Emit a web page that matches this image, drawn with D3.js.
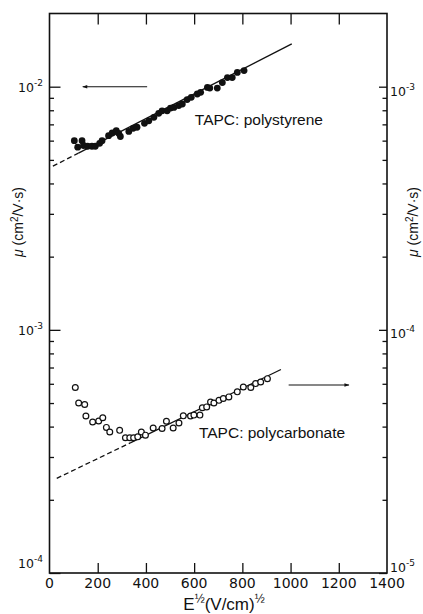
<!DOCTYPE html>
<html><head><meta charset="utf-8">
<script src="https://cdn.jsdelivr.net/npm/d3@7"></script>
<style>body{margin:0;background:#fff}svg{display:block}</style>
</head><body>
<svg id="c" width="423" height="614"></svg>
<script>
// ---- data ----
const xTickValues = [0, 200, 400, 600, 800, 1000, 1200, 1400];
const xInnerTicks = [200, 400, 600, 800, 1000, 1200];
const leftMajor = [1e-2, 1e-3, 1e-4];
const leftMajorExp = ["-2", "-3", "-4"];
const rightMajor = [1e-3, 1e-4, 1e-5];
const rightMajorExp = ["-3", "-4", "-5"];
const minorMult = [2, 3, 4, 5, 6, 7, 8, 9];

// TAPC: polystyrene (filled dots, left axis)
const psE  = [103,117,135,141,158,176,190,208,218,245,260,277,287,294,329,347,363,394,412,433,453,467,488,502,516,536,551,571,588,613,627,655,665,696,717,738,758,779,807];
const psMu = [6.00e-3,5.64e-3,6.00e-3,5.73e-3,5.69e-3,5.69e-3,5.69e-3,5.85e-3,6.00e-3,6.29e-3,6.45e-3,6.60e-3,6.43e-3,6.24e-3,6.55e-3,6.74e-3,6.81e-3,7.07e-3,7.24e-3,7.48e-3,7.77e-3,7.96e-3,7.96e-3,8.17e-3,8.22e-3,8.36e-3,8.49e-3,8.85e-3,9.04e-3,9.33e-3,9.48e-3,9.93e-3,9.87e-3,9.87e-3,1.04e-2,1.09e-2,1.09e-2,1.145e-2,1.165e-2];
const psFitDashed = [[14, 4.71e-3], [120, 5.33e-3]];
const psFitSolid  = [[120, 5.33e-3], [1005, 1.50e-2]];

// TAPC: polycarbonate (open circles, right axis)
const pcE  = [107,121,146,151,179,204,221,236,250,291,315,333,349,366,381,398,430,467,485,513,537,555,585,599,624,634,652,668,682,703,721,744,779,804,835,855,876,904];
const pcMu = [5.79e-5,5.00e-5,4.93e-5,4.42e-5,4.18e-5,4.22e-5,4.35e-5,3.97e-5,3.80e-5,3.86e-5,3.60e-5,3.60e-5,3.60e-5,3.63e-5,3.80e-5,3.69e-5,3.95e-5,3.93e-5,4.21e-5,3.95e-5,4.14e-5,4.43e-5,4.42e-5,4.46e-5,4.46e-5,4.78e-5,4.82e-5,5.05e-5,5.00e-5,5.13e-5,5.22e-5,5.30e-5,5.56e-5,5.82e-5,5.79e-5,6.01e-5,6.10e-5,6.30e-5];
const pcFitDashed = [[30, 2.45e-5], [335, 3.43e-5]];
const pcFitSolid  = [[335, 3.43e-5], [960, 6.87e-5]];

// annotations (data coordinates)
const psArrow = {from: [405, 1e-2], to: [138, 1e-2]};
const pcArrow = {from: [992, 5.93e-5], to: [1242, 5.93e-5]};
const psLabel = {E: 603, mu: 6.93e-3, text: "TAPC: polystyrene"};
const pcLabel = {E: 620, mu: 3.59e-5, text: "TAPC: polycarbonate"};

// ---- drawing ----
const ink = "#111";
const svg = d3.select("#c");
const x  = d3.scaleLinear().domain([0, 1400]).range([49.5, 387]);
const yL = d3.scaleLog().domain([1e-4, 2e-2]).range([573, 13.5]);
const yR = d3.scaleLog().domain([1e-5, 2e-3]).range([573, 13.5]);

const defs = svg.append("defs");
defs.append("marker").attr("id","ah").attr("viewBox","0 0 10 10").attr("refX",9).attr("refY",5)
  .attr("markerWidth",7).attr("markerHeight",5).attr("orient","auto").attr("markerUnits","userSpaceOnUse")
  .append("path").attr("d","M0,1.5 L10,5 L0,8.5 Z").attr("fill",ink);

function styleAxis(g){ g.select(".domain").remove(); g.selectAll("line").attr("stroke",ink).attr("stroke-width",1.3); g.selectAll("text").remove(); }

const leftMinor = [], rightMinor = [];
[1e-4, 1e-3].forEach(d => minorMult.forEach(m => leftMinor.push(m*d)));
[1e-5, 1e-4].forEach(d => minorMult.forEach(m => rightMinor.push(m*d)));

svg.append("g").attr("transform","translate(49.5,0)").call(d3.axisRight(yL).tickValues(leftMajor).tickSize(11)).call(styleAxis);
svg.append("g").attr("transform","translate(49.5,0)").call(d3.axisRight(yL).tickValues(leftMinor).tickSize(4.5)).call(styleAxis);
svg.append("g").attr("transform","translate(387,0)").call(d3.axisLeft(yR).tickValues(rightMajor).tickSize(8)).call(styleAxis);
svg.append("g").attr("transform","translate(387,0)").call(d3.axisLeft(yR).tickValues(rightMinor).tickSize(4.5)).call(styleAxis);
svg.append("g").attr("transform",`translate(0,${yL(2e-2)})`).call(d3.axisBottom(x).tickValues(xInnerTicks).tickSize(11)).call(styleAxis);
svg.append("g").attr("transform","translate(0,573)").call(d3.axisTop(x).tickValues(xInnerTicks).tickSize(10)).call(styleAxis);

// frame
svg.append("rect").attr("x", x(0)).attr("y", yL(2e-2)).attr("width", x(1400)-x(0)).attr("height", yL(1e-4)-yL(2e-2))
  .attr("fill","none").attr("stroke",ink).attr("stroke-width",1.6);

// x tick labels
svg.append("g").selectAll("text").data(xTickValues).join("text")
  .attr("x", d => x(d)).attr("y", 588).attr("text-anchor","middle")
  .attr("font-family","DejaVu Sans").attr("font-size",14).attr("fill",ink).text(d => d);

// y tick labels (bottom labels are lifted above the x axis)
const leftOff = [5, 5, -5];
const rightOff = [9, 8, -1];
const lt = svg.append("g").attr("font-family","DejaVu Sans").attr("fill",ink);
leftMajor.forEach((v,i) => {
  const t = lt.append("text").attr("x", 43).attr("y", yL(v)+leftOff[i]).attr("text-anchor","end").attr("font-size",12.5);
  t.append("tspan").text("10");
  t.append("tspan").attr("dy",-6).attr("font-size",9).text(leftMajorExp[i]);
});
rightMajor.forEach((v,i) => {
  const t = lt.append("text").attr("x", 390).attr("y", yR(v)+rightOff[i]).attr("text-anchor","start").attr("font-size",12.5);
  t.append("tspan").text("10");
  t.append("tspan").attr("dy",-6).attr("font-size",9).text(rightMajorExp[i]);
});

// axis titles
function yTitle(cx){
  const t = svg.append("text").attr("transform",`translate(${cx},222) rotate(-90)`).attr("text-anchor","middle")
    .attr("font-family","Liberation Sans").attr("font-size",14).attr("fill",ink);
  t.append("tspan").attr("font-style","italic").text("\u03bc");
  t.append("tspan").text(" (cm");
  t.append("tspan").attr("dy",-5).attr("font-size",10).text("2");
  t.append("tspan").attr("dy",5).text("/V\u00b7s)");
}
yTitle(23); yTitle(418);

const xt = svg.append("text").attr("x", 224).attr("y", 610).attr("text-anchor","middle")
  .attr("font-family","Liberation Sans").attr("font-size",17).attr("fill",ink);
xt.append("tspan").text("E");
xt.append("tspan").attr("dy",-7).attr("font-size",12).text("\u00bd");
xt.append("tspan").attr("dy",7).text("(V/cm)");
xt.append("tspan").attr("dy",-7).attr("font-size",12).text("\u00bd");

// fit lines
const lineL = d3.line().x(d => x(d[0])).y(d => yL(d[1]));
const lineR = d3.line().x(d => x(d[0])).y(d => yR(d[1]));
svg.append("path").attr("d", lineL(psFitDashed)).attr("fill","none").attr("stroke",ink).attr("stroke-width",1.3).attr("stroke-dasharray","5,3");
svg.append("path").attr("d", lineL(psFitSolid)).attr("fill","none").attr("stroke",ink).attr("stroke-width",1.3);
svg.append("path").attr("d", lineR(pcFitDashed)).attr("fill","none").attr("stroke",ink).attr("stroke-width",1.3).attr("stroke-dasharray","5,3");
svg.append("path").attr("d", lineR(pcFitSolid)).attr("fill","none").attr("stroke",ink).attr("stroke-width",1.3);

// points
svg.append("g").selectAll("circle").data(psE.map((e,i)=>[e, psMu[i]])).join("circle")
  .attr("cx", d => x(d[0])).attr("cy", d => yL(d[1])).attr("r", 3.4).attr("fill", ink);
svg.append("g").selectAll("circle").data(pcE.map((e,i)=>[e, pcMu[i]])).join("circle")
  .attr("cx", d => x(d[0])).attr("cy", d => yR(d[1])).attr("r", 2.9).attr("fill","#fff").attr("stroke",ink).attr("stroke-width",1.2);

// arrows
svg.append("line").attr("x1", x(psArrow.from[0])).attr("y1", yL(psArrow.from[1])).attr("x2", x(psArrow.to[0])).attr("y2", yL(psArrow.to[1]))
  .attr("stroke",ink).attr("stroke-width",1.1).attr("marker-end","url(#ah)");
svg.append("line").attr("x1", x(pcArrow.from[0])).attr("y1", yR(pcArrow.from[1])).attr("x2", x(pcArrow.to[0])).attr("y2", yR(pcArrow.to[1]))
  .attr("stroke",ink).attr("stroke-width",1.1).attr("marker-end","url(#ah)");

// labels
svg.append("text").attr("x", x(psLabel.E)).attr("y", yL(psLabel.mu)).attr("font-family","Liberation Sans").attr("font-size",15.5).attr("fill",ink).text(psLabel.text);
svg.append("text").attr("x", x(pcLabel.E)).attr("y", yR(pcLabel.mu)).attr("font-family","Liberation Sans").attr("font-size",15.5).attr("fill",ink).text(pcLabel.text);
</script>
</body></html>
